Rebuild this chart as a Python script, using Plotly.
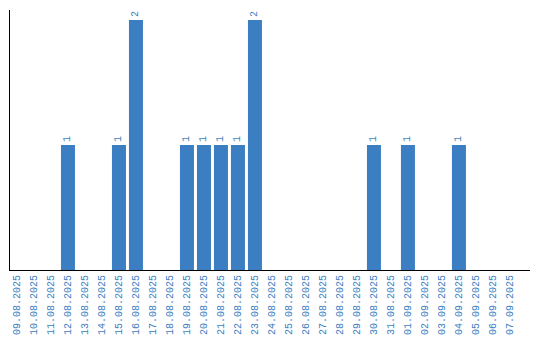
import plotly.graph_objects as go

dates = ["09.08.2025","10.08.2025","11.08.2025","12.08.2025","13.08.2025","14.08.2025",
         "15.08.2025","16.08.2025","17.08.2025","18.08.2025","19.08.2025","20.08.2025",
         "21.08.2025","22.08.2025","23.08.2025","24.08.2025","25.08.2025","26.08.2025",
         "27.08.2025","28.08.2025","29.08.2025","30.08.2025","31.08.2025","01.09.2025",
         "02.09.2025","03.09.2025","04.09.2025","05.09.2025","06.09.2025","07.09.2025"]
counts = [0,0,0,1,0,0,1,2,0,0,1,1,1,1,2,0,0,0,0,0,0,1,0,1,0,0,1,0,0,0]

blue = "#3b7ec2"
labels = [str(c) if c else "" for c in counts]
font = "Liberation Mono"

fig = go.Figure(go.Bar(
    x=dates, y=counts, marker_color=blue, marker_line_width=0,
    text=labels, textposition="outside", textangle=-90,
    textfont=dict(family=font, size=10, color=blue),
    cliponaxis=False,
))
fig.update_layout(
    width=540, height=340, margin=dict(l=10, r=10, t=10, b=70),
    paper_bgcolor="white", plot_bgcolor="white", showlegend=False,
    bargap=0.176,
    xaxis=dict(type="category", range=[-0.41, 30.18], showline=True, linecolor="black",
               linewidth=1, showgrid=False, ticks="", tickangle=-90, automargin=False,
               tickfont=dict(family=font, size=10, color=blue)),
    yaxis=dict(range=[0, 2.08], showline=True, linecolor="black", linewidth=1,
               showgrid=False, showticklabels=False, ticks="", zeroline=False,
               automargin=False),
)
fig.write_html("out.html")
